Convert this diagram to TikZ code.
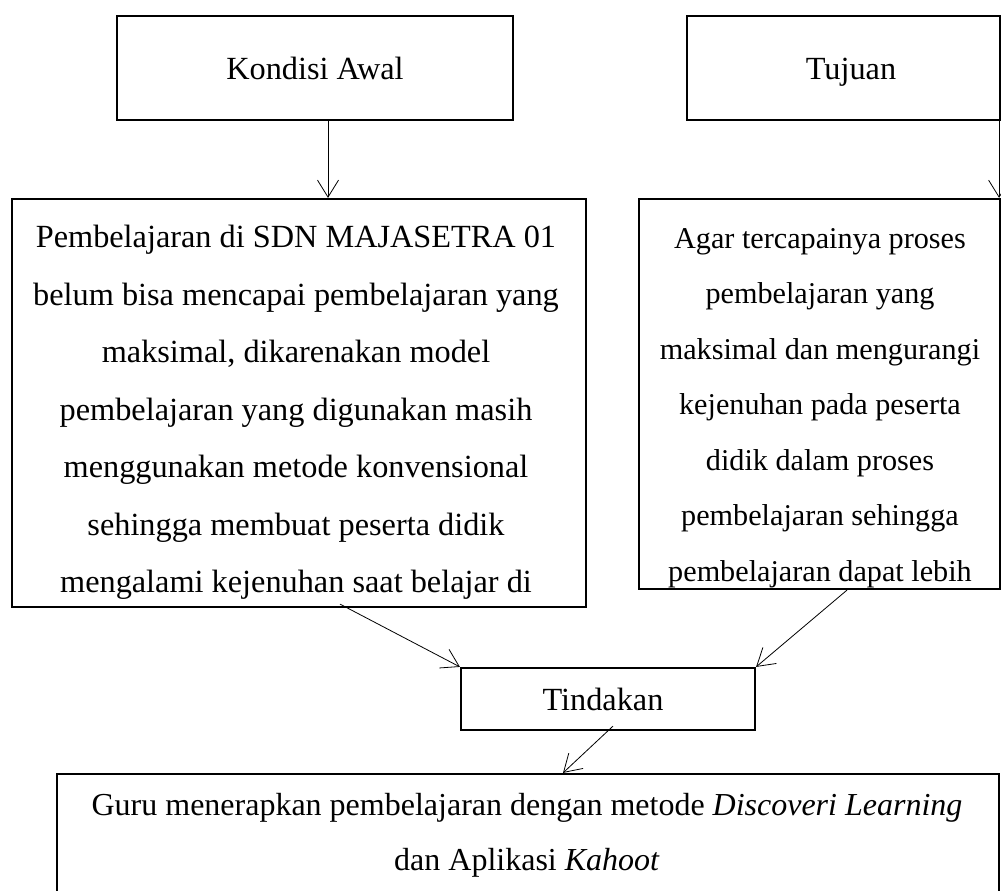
\documentclass[tikz,border=0pt]{standalone}
\usepackage{fontspec}
\setmainfont{Liberation Serif}
\usetikzlibrary{positioning, arrows.meta, calc}

\tikzset{
    kotak/.style={draw, line width=2.2pt, inner sep=0pt},
    isi/.style={align=center, inner sep=0pt, font=\fontsize{32.3}{57.5}\selectfont},
    isikanan/.style={align=center, inner sep=0pt, font=\fontsize{30.2}{55.5}\selectfont},
    isibawah/.style={align=center, inner sep=0pt, font=\fontsize{32}{55}\selectfont},
    panah/.style={-{Straight Barb[length=17pt,width=21pt]}, line width=0.8pt},
}

\begin{document}
\begin{tikzpicture}[x=1pt, y=-1pt]
    \useasboundingbox (0,0) rectangle (1001,891);

        \node[kotak, minimum width=396pt, minimum height=104pt] (awal) at (315,68) {};
        \node[kotak, minimum width=313pt, minimum height=104pt] (tujuan) at (843.5,68) {};
        \node[kotak, minimum width=574pt, minimum height=408pt] (masalah) at (299,403) {};
        \node[kotak, minimum width=361pt, minimum height=390pt] (harapan) at (819.5,394) {};
        \node[kotak, minimum width=294pt, minimum height=62pt] (tindakan) at (608,699) {};
        \node[kotak, minimum width=942pt, minimum height=122pt] (solusi) at (528,835) {};

        % teks
        \node[isi, anchor=base] (tawal) at (315,80) {Kondisi Awal};
        \node[isi, anchor=base] (ttujuan) at (851,80) {Tujuan};
        \node[isi, anchor=base] (ttindakan) at (603,710) {Tindakan};
        \node[isi, anchor=north] (tmasalah) at (296,225) {Pembelajaran di SDN MAJASETRA 01\\
            belum bisa mencapai pembelajaran yang\\
            maksimal, dikarenakan model\\
            pembelajaran yang digunakan masih\\
            menggunakan metode konvensional\\
            sehingga membuat peserta didik\\
            mengalami kejenuhan saat belajar di};
        \node[isikanan, anchor=north] (tharapan) at (820,228) {Agar tercapainya proses\\
            pembelajaran yang\\
            maksimal dan mengurangi\\
            kejenuhan pada peserta\\
            didik dalam proses\\
            pembelajaran sehingga\\
            pembelajaran dapat lebih};
        \node[isibawah, anchor=north] (tsolusi) at (527,793) {Guru menerapkan pembelajaran dengan metode \textit{Discoveri Learning}\\
            dan Aplikasi \textit{Kahoot}};

        \draw[panah] ([xshift=13pt]awal.south) -- ([xshift=29pt]masalah.north);
        \draw[panah] ([xshift=-2pt]tujuan.south east) -- ([xshift=-2pt]harapan.north east);
        \draw[panah] ([xshift=41pt, yshift=4pt]masalah.south) -- (tindakan.north west);
        \draw[panah] ([xshift=27.5pt]harapan.south) -- (tindakan.north east);
        \draw[panah] ([xshift=5pt, yshift=5pt]tindakan.south) -- ([xshift=35pt]solusi.north);
\end{tikzpicture}
\end{document}
